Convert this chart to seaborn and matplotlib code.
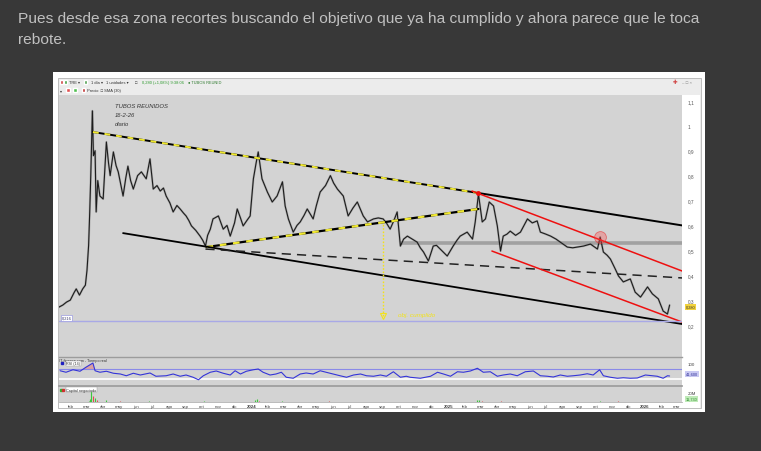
import numpy as np
import pandas as pd
import matplotlib
matplotlib.use("Agg")
import matplotlib.pyplot as plt
import matplotlib.transforms as mtransforms
from matplotlib.patches import Rectangle
import seaborn as sns

# ---- price (daily chart) ----
price_dates = [
    "2023-01-09", "2023-01-16", "2023-01-23", "2023-01-30", "2023-02-06", "2023-02-10", "2023-02-16", "2023-02-22", "2023-02-27", "2023-03-02",
    "2023-03-05", "2023-03-07", "2023-03-09", "2023-03-12", "2023-03-14", "2023-03-17", "2023-03-19", "2023-03-22", "2023-03-26", "2023-04-01",
    "2023-04-07", "2023-04-11", "2023-04-14", "2023-04-20", "2023-04-25", "2023-04-29", "2023-05-04", "2023-05-08", "2023-05-13", "2023-05-17",
    "2023-05-22", "2023-05-27", "2023-06-04", "2023-06-11", "2023-06-20", "2023-06-27", "2023-07-03", "2023-07-10", "2023-07-16", "2023-07-22",
    "2023-07-27", "2023-08-03", "2023-08-09", "2023-08-16", "2023-08-22", "2023-08-28", "2023-09-02", "2023-09-07", "2023-09-12", "2023-09-20",
    "2023-09-28", "2023-10-03", "2023-10-08", "2023-10-12", "2023-10-17", "2023-10-22", "2023-11-01", "2023-11-10", "2023-11-17", "2023-11-23",
    "2023-12-01", "2023-12-06", "2023-12-12", "2023-12-17", "2023-12-24", "2023-12-30", "2024-01-05", "2024-01-10", "2024-01-14", "2024-01-21",
    "2024-01-31", "2024-02-09", "2024-02-18", "2024-02-28", "2024-03-04", "2024-03-10", "2024-03-19", "2024-03-26", "2024-04-01", "2024-04-08",
    "2024-04-14", "2024-04-25", "2024-05-01", "2024-05-08", "2024-05-18", "2024-05-27", "2024-06-02", "2024-06-09", "2024-06-20", "2024-06-29",
    "2024-07-08", "2024-07-16", "2024-07-27", "2024-08-04", "2024-08-15", "2024-08-24", "2024-09-02", "2024-09-08", "2024-09-15", "2024-09-22",
    "2024-09-28", "2024-10-04", "2024-10-10", "2024-10-17", "2024-10-26", "2024-11-04", "2024-11-10", "2024-11-16", "2024-11-25", "2024-12-04",
    "2024-12-10", "2024-12-17", "2024-12-30", "2025-01-10", "2025-01-17", "2025-01-23", "2025-02-05", "2025-02-15", "2025-02-20", "2025-02-26",
    "2025-03-05", "2025-03-11", "2025-03-18", "2025-03-26", "2025-04-02", "2025-04-08", "2025-04-13", "2025-04-20", "2025-04-26", "2025-05-06",
    "2025-05-15", "2025-05-28", "2025-06-06", "2025-06-15", "2025-06-21", "2025-07-01", "2025-07-10", "2025-07-20", "2025-07-28", "2025-08-10",
    "2025-08-20", "2025-08-29", "2025-09-09", "2025-09-22", "2025-10-05", "2025-10-10", "2025-10-16", "2025-10-23", "2025-10-29", "2025-11-07",
    "2025-11-13", "2025-11-22", "2025-12-05", "2025-12-14", "2025-12-24", "2026-01-06", "2026-01-15", "2026-01-26", "2026-02-04", "2026-02-12",
    "2026-02-16",
]
price_vals = [
    0.272, 0.280, 0.292, 0.300, 0.330, 0.345, 0.320, 0.345, 0.360, 0.420,
    0.520, 0.650, 0.800, 1.060, 0.880, 0.900, 0.654, 0.780, 0.718, 0.706,
    0.935, 0.850, 0.800, 0.895, 0.840, 0.815, 0.760, 0.718, 0.790, 0.838,
    0.780, 0.746, 0.800, 0.815, 0.787, 0.867, 0.746, 0.760, 0.738, 0.750,
    0.718, 0.690, 0.654, 0.680, 0.666, 0.650, 0.638, 0.620, 0.598, 0.580,
    0.557, 0.540, 0.517, 0.560, 0.585, 0.626, 0.638, 0.585, 0.600, 0.557,
    0.610, 0.666, 0.630, 0.598, 0.620, 0.638, 0.787, 0.850, 0.895, 0.787,
    0.734, 0.694, 0.718, 0.775, 0.678, 0.626, 0.573, 0.600, 0.614, 0.640,
    0.666, 0.626, 0.680, 0.734, 0.760, 0.800, 0.770, 0.746, 0.718, 0.638,
    0.670, 0.694, 0.638, 0.614, 0.626, 0.630, 0.626, 0.610, 0.585, 0.620,
    0.654, 0.517, 0.545, 0.557, 0.545, 0.533, 0.510, 0.493, 0.457, 0.517,
    0.520, 0.505, 0.477, 0.517, 0.540, 0.557, 0.573, 0.545, 0.614, 0.726,
    0.614, 0.626, 0.694, 0.678, 0.598, 0.497, 0.557, 0.565, 0.577, 0.560,
    0.573, 0.626, 0.610, 0.618, 0.573, 0.565, 0.557, 0.545, 0.533, 0.513,
    0.510, 0.513, 0.517, 0.525, 0.505, 0.553, 0.493, 0.480, 0.465, 0.425,
    0.397, 0.373, 0.385, 0.332, 0.312, 0.353, 0.325, 0.305, 0.256, 0.244,
    0.280,
]

# ---- RSI (14) ----
rsi_dates = [
    "2023-01-11", "2023-01-22", "2023-02-04", "2023-02-17", "2023-02-28", "2023-03-13", "2023-03-17", "2023-03-26", "2023-04-07", "2023-04-20",
    "2023-05-03", "2023-05-14", "2023-05-27", "2023-06-09", "2023-06-27", "2023-07-08", "2023-07-27", "2023-08-09", "2023-08-22", "2023-09-02",
    "2023-09-15", "2023-09-25", "2023-10-04", "2023-10-17", "2023-10-28", "2023-11-10", "2023-11-23", "2023-12-02", "2023-12-12", "2023-12-23",
    "2024-01-05", "2024-01-14", "2024-01-23", "2024-02-05", "2024-02-16", "2024-02-26", "2024-03-06", "2024-03-19", "2024-04-01", "2024-04-12",
    "2024-04-25", "2024-05-08", "2024-05-19", "2024-06-01", "2024-06-14", "2024-06-26", "2024-07-09", "2024-07-22", "2024-08-02", "2024-08-15",
    "2024-08-28", "2024-09-08", "2024-09-21", "2024-10-04", "2024-10-15", "2024-10-22", "2024-11-10", "2024-11-29", "2024-12-12", "2024-12-23",
    "2025-01-05", "2025-01-18", "2025-01-29", "2025-02-11", "2025-02-24", "2025-03-07", "2025-03-20", "2025-04-02", "2025-04-13", "2025-04-26",
    "2025-05-09", "2025-05-24", "2025-06-08", "2025-06-21", "2025-07-04", "2025-07-15", "2025-07-28", "2025-08-10", "2025-08-21", "2025-09-03",
    "2025-09-16", "2025-09-27", "2025-10-09", "2025-10-16", "2025-10-29", "2025-11-11", "2025-11-22", "2025-12-05", "2025-12-18", "2026-01-02",
    "2026-01-15", "2026-01-24", "2026-02-04", "2026-02-12", "2026-02-16",
]
rsi_vals = [
    63, 57, 67, 61, 77, 94, 63, 57, 61, 53,
    50, 43, 53, 46, 54, 41, 43, 50, 41, 46,
    37, 27, 43, 57, 62, 53, 46, 63, 50, 61,
    67, 70, 57, 46, 50, 57, 37, 33, 50, 54,
    50, 63, 57, 50, 43, 37, 46, 50, 43, 41,
    46, 41, 59, 37, 41, 37, 33, 41, 57, 50,
    41, 59, 57, 62, 73, 57, 59, 41, 46, 50,
    43, 59, 62, 43, 41, 38, 46, 41, 43, 46,
    51, 46, 67, 43, 37, 33, 35, 33, 34, 46,
    43, 41, 33, 43, 42,
]

# ---- capital negociado (millions) ----
vol_dates = ["2023-03-06", "2023-03-08", "2023-03-10", "2023-03-13", "2023-03-16", "2023-03-21", "2023-04-06", "2023-05-02",
             "2023-06-26", "2023-10-05", "2024-01-08", "2024-01-12", "2024-01-16", "2024-02-27", "2024-05-24", "2025-02-24",
             "2025-02-27", "2025-03-04", "2025-04-08", "2025-10-10", "2025-11-13"]
vol_vals = [3.0, 6.0, 24.0, 14.0, 8.0, 5.0, 4.0, 2.0, 2.5, 1.5, 4.0, 6.5, 3.0, 2.0, 2.0, 4.0, 5.0, 3.0, 2.5, 2.0, 1.5]
vol_up = [1, 1, 1, 0, 1, 0, 1, 0, 1, 1, 1, 1, 0, 1, 0, 1, 1, 0, 0, 1, 0]

# ---- drawn lines on the chart ----
upper_line_dates = ["2023-03-13", "2025-02-26", "2026-03-11"]
upper_line_vals = [0.975, 0.730, 0.600]
support_yel_dates = ["2023-10-10", "2025-02-26"]
support_yel_vals = [0.513, 0.666]
lower_line_dates = ["2023-05-08", "2026-03-11"]
lower_line_vals = [0.569, 0.204]
mid_line_dates = ["2023-10-08", "2026-03-11"]
mid_line_vals = [0.505, 0.389]
red_up_dates = ["2025-02-14", "2026-03-11"]
red_up_vals = [0.738, 0.417]
red_lo_dates = ["2025-03-23", "2026-03-11"]
red_lo_vals = [0.497, 0.212]
band_start, band_val = "2024-10-04", 0.529
target_date, target_top, target_bottom = "2024-09-02", 0.612, 0.236
touch_date, touch_val = "2025-10-10", 0.553
base_val = 0.216

price_ticks = [0.2, 0.3, 0.4, 0.5, 0.6, 0.7, 0.8, 0.9, 1.0, 1.1]
price_tick_labels = ["0,2", "0,3", "0,4", "0,5", "0,6", "0,7", "0,8", "0,9", "1", "1,1"]
month_names = ["ene", "feb", "mar", "abr", "may", "jun", "jul", "ago", "sep", "oct", "nov", "dic"]

W, H = 761, 452


def box(x0, y0, x1, y1):
    # pixel box (origin top-left) -> figure fraction rect
    return [x0 / W, 1 - y1 / H, (x1 - x0) / W, (y1 - y0) / H]


def fx(x):
    return x / W


def fy(y):
    return 1 - y / H


sns.set_theme(style="white")
plt.rcParams["font.family"] = ["Liberation Sans", "DejaVu Sans"]

fig = plt.figure(figsize=(W / 100, H / 100), dpi=100)
fig.patch.set_facecolor("#383838")

# post text
fig.text(fx(18), fy(19), "Pues desde esa zona recortes buscando el objetivo que ya ha cumplido y ahora parece que le toca",
         fontsize=11.15, color="#c0c0c0", va="center", ha="left")
fig.text(fx(18), fy(40), "rebote.", fontsize=11.15, color="#c0c0c0", va="center", ha="left")

# screenshot frame and window
fig.patches.append(Rectangle((fx(53), fy(413)), (705 - 53) / W, (413 - 73) / H, transform=fig.transFigure,
                             facecolor="white", edgecolor="none", zorder=-5))
fig.patches.append(Rectangle((fx(58), fy(409)), (701 - 58) / W, (409 - 79) / H, transform=fig.transFigure,
                             facecolor="#ececec", edgecolor="#b4b4b4", lw=0.6, zorder=-4))
fig.patches.append(Rectangle((fx(682), fy(404)), (700 - 682) / W, (404 - 96) / H, transform=fig.transFigure,
                             facecolor="white", edgecolor="none", zorder=-3))
fig.patches.append(Rectangle((fx(59), fy(409)), (700 - 59) / W, (409 - 403) / H, transform=fig.transFigure,
                             facecolor="white", edgecolor="none", zorder=-3))

# toolbar
tb = dict(fontsize=2.9, va="center", ha="left", color="#333333")
for x, c in [(60, "#d04040"), (64, "#40a040"), (84, "#50a050")]:
    fig.patches.append(Rectangle((fx(x), fy(85)), 3 / W, 4 / H, transform=fig.transFigure, facecolor=c, zorder=2))
fig.text(fx(69), fy(83), "TRE ▾", **tb)
fig.text(fx(91), fy(83), "1 día ▾", **tb)
fig.text(fx(106), fy(83), "1 unidades ▾", **tb)
fig.text(fx(135), fy(83), "□", **tb)
fig.text(fx(142), fy(83), "0,280 (+1,08%) 9:38:06", fontsize=2.9, va="center", ha="left", color="#2e9a2e")
fig.text(fx(188), fy(83), "● TUBOS REUNID", fontsize=2.9, va="center", ha="left", color="#2e7a2e")
fig.text(fx(60), fy(91), "▾", **tb)
fig.patches.append(Rectangle((fx(66), fy(93)), 4 / W, 4 / H, transform=fig.transFigure, facecolor="#e05050", zorder=2))
fig.patches.append(Rectangle((fx(73), fy(93)), 4 / W, 4 / H, transform=fig.transFigure, facecolor="#50c050", zorder=2))
fig.patches.append(Rectangle((fx(82), fy(93)), 3 / W, 4 / H, transform=fig.transFigure, facecolor="#c03030", zorder=2))
fig.text(fx(87), fy(91), "Precio  □ SMA (30)", **tb)
fig.text(fx(673), fy(83), "✚", fontsize=4, va="center", ha="left", color="#d04040")
fig.text(fx(682), fy(83), "– □ ×", fontsize=3.2, va="center", ha="left", color="#888888")

grey_bg = "#d3d3d3"

# ---- price panel ----
ax = fig.add_axes(box(59, 96, 682, 358))
ax.set_facecolor(grey_bg)
pdates = pd.to_datetime(price_dates)
sns.lineplot(x=pdates, y=price_vals, ax=ax, color="#6a6a6a", lw=1.6, alpha=0.35)
sns.lineplot(x=pdates, y=price_vals, ax=ax, color="#1c1c1c", lw=0.8)

xmin, xmax = pd.Timestamp("2023-01-09"), pd.Timestamp("2026-03-11")
ax.set_xlim(xmin, xmax)
ax.set_ylim(0.2 - 32 / 249, 0.2 + 230 / 249)

# trend lines
ud = pd.to_datetime(upper_line_dates)
ax.plot(ud, upper_line_vals, color="black", lw=1.4)
ax.plot(ud[:2], upper_line_vals[:2], color="#f0e830", lw=1.4, dashes=(3, 3))
sd = pd.to_datetime(support_yel_dates)
ax.plot(sd, support_yel_vals, color="black", lw=1.6)
ax.plot(sd, support_yel_vals, color="#f0e830", lw=1.6, dashes=(3, 3))
ax.plot(pd.to_datetime(lower_line_dates), lower_line_vals, color="black", lw=1.3)
ax.plot(pd.to_datetime(mid_line_dates), mid_line_vals, color="#222222", lw=1.1, dashes=(6, 4))
ax.plot(pd.to_datetime(red_up_dates), red_up_vals, color="#ee1010", lw=1.1)
ax.plot(pd.to_datetime(red_lo_dates), red_lo_vals, color="#ee1010", lw=1.1)
ax.hlines(band_val, pd.Timestamp(band_start), xmax, color="#9c9c9c", lw=2.6, alpha=0.9, zorder=1.5)
ax.axhline(base_val, color="#a9a9e6", lw=1.0)
ax.plot(ud[1], upper_line_vals[1], "o", color="#ee1010", ms=2.5)
ax.plot(pd.Timestamp(touch_date), touch_val, "o", ms=8.5, mfc=(1, 0.3, 0.3, 0.35), mec=(0.9, 0.2, 0.2, 0.6), mew=0.6)

td = pd.Timestamp(target_date)
ax.vlines(td, target_bottom, target_top, color="#f2e21c", lw=1.0, linestyles=(0, (1.2, 1.2)))
ax.plot(td, target_bottom, marker="v", ms=4, mfc="none", mec="#f2e21c", mew=0.8)
ax.text(td + pd.Timedelta(days=28), target_bottom + 0.006, "obj. cumplido", fontsize=4.6, color="#f2e21c",
        va="center", ha="left", style="italic")

ax.text(0.090, 0.96, "TUBOS REUNIDOS", transform=ax.transAxes, fontsize=4.2, style="italic", color="#333333", va="center")
ax.text(0.090, 0.925, "16-2-26", transform=ax.transAxes, fontsize=4.2, style="italic", color="#333333", va="center")
ax.text(0.090, 0.89, "diario", transform=ax.transAxes, fontsize=4.2, style="italic", color="#333333", va="center")

ax.yaxis.tick_right()
ax.set_yticks(price_ticks)
ax.set_yticklabels(price_tick_labels)
ax.tick_params(axis="y", length=0, pad=4, labelsize=3.4, labelcolor="#555555")
ax.set_xticks([])
ax.set_xlabel("")
ax.set_ylabel("")
for s in ax.spines.values():
    s.set_visible(False)

blend = mtransforms.blended_transform_factory(ax.transAxes, ax.transData)
ax.text(0.004, base_val + 0.012, "0,216", transform=blend, fontsize=2.8, color="#333366", va="center",
        bbox=dict(boxstyle="square,pad=0.25", fc="white", ec="#9a9ae0", lw=0.5))
ax.text(1.006, price_vals[-1] - 0.006, "0,280", transform=blend, fontsize=2.8, color="#333333", va="center",
        bbox=dict(boxstyle="square,pad=0.25", fc="#f2d23c", ec="none"))

# ---- RSI panel ----
ax2 = fig.add_axes(box(59, 358, 682, 387))
ax2.set_facecolor(grey_bg)
rdates = pd.to_datetime(rsi_dates)
rv = np.array(rsi_vals, dtype=float)
ax2.axhline(70, color="#8a8ae8", lw=0.8)
ax2.axhline(30, color="white", lw=1.2)
ax2.fill_between(rdates, rv, 70, where=rv > 70, color="#e08080", alpha=0.6, lw=0, interpolate=True)
sns.lineplot(x=rdates, y=rv, ax=ax2, color="#3434d8", lw=0.8)
ax2.set_xlim(xmin, xmax)
ax2.set_ylim(2, 118)
ax2.set_xticks([])
ax2.yaxis.tick_right()
ax2.set_yticks([94])
ax2.set_yticklabels(["100"])
ax2.tick_params(axis="y", length=0, pad=4, labelsize=3.2, labelcolor="#444444")
ax2.set_xlabel("")
ax2.set_ylabel("")
for name, s in ax2.spines.items():
    s.set_visible(name == "top")
ax2.spines["top"].set_color("#9c9c9c")
ax2.spines["top"].set_linewidth(1.0)
ax2.text(0.0, 0.97, "IT-finance.com - Tiempo real", transform=ax2.transAxes, fontsize=2.7, color="#333333", va="top")
ax2.text(0.012, 0.78, "RSI (14)", transform=ax2.transAxes, fontsize=2.7, color="#333333", va="center",
         bbox=dict(boxstyle="square,pad=0.2", fc="white", ec="#999999", lw=0.3))
ax2.plot([0.005], [0.78], "s", ms=1.6, color="#2020c0", transform=ax2.transAxes)
blend2 = mtransforms.blended_transform_factory(ax2.transAxes, ax2.transData)
ax2.text(1.006, 50, "41,600", transform=blend2, fontsize=2.8, color="#333399", va="center",
         bbox=dict(boxstyle="square,pad=0.25", fc="#c8c8f2", ec="none"))

# ---- volume panel ----
ax3 = fig.add_axes(box(59, 387, 682, 403))
ax3.set_facecolor(grey_bg)
vd = pd.to_datetime(vol_dates)
vcol = ["#3cc83c" if u else "#e05050" for u in vol_up]
ax3.vlines(vd, 0, vol_vals, colors=vcol, lw=0.8)
ax3.set_xlim(xmin, xmax)
ax3.set_ylim(0, 35.5)
ax3.yaxis.tick_right()
ax3.set_yticks([20])
ax3.set_yticklabels(["20M"])
ax3.tick_params(axis="y", length=0, pad=4, labelsize=3.2, labelcolor="#444444")
ticks = pd.date_range("2023-02-01", "2026-03-01", freq="MS")
tick_labels = [str(t.year) if t.month == 1 else month_names[t.month - 1] for t in ticks]
ax3.set_xticks(ticks)
ax3.set_xticklabels(tick_labels)
ax3.tick_params(axis="x", length=0, pad=1.6, labelsize=3.2, labelcolor="#444444")
for lbl in ax3.get_xticklabels():
    if lbl.get_text().isdigit():
        lbl.set_fontweight("bold")
for name, s in ax3.spines.items():
    s.set_visible(name in ("top", "bottom"))
ax3.spines["top"].set_color("#9c9c9c")
ax3.spines["bottom"].set_color("#b0b0b0")
ax3.spines["bottom"].set_linewidth(0.6)
ax3.text(0.012, 0.78, "Capital negociado", transform=ax3.transAxes, fontsize=2.7, color="#333333", va="center",
         bbox=dict(boxstyle="square,pad=0.2", fc="white", ec="#999999", lw=0.3))
ax3.plot([0.004], [0.78], "s", ms=1.4, color="#30b030", transform=ax3.transAxes)
ax3.plot([0.007], [0.78], "s", ms=1.4, color="#d03030", transform=ax3.transAxes)
blend3 = mtransforms.blended_transform_factory(ax3.transAxes, ax3.transData)
ax3.text(1.006, 6.7, "11,730", transform=blend3, fontsize=2.8, color="#2a8a2a", va="center",
         bbox=dict(boxstyle="square,pad=0.25", fc="#bfeab8", ec="none"))
ax3.set_xlabel("")
ax3.set_ylabel("")

fig.savefig("out.png", dpi=100, facecolor=fig.get_facecolor())
